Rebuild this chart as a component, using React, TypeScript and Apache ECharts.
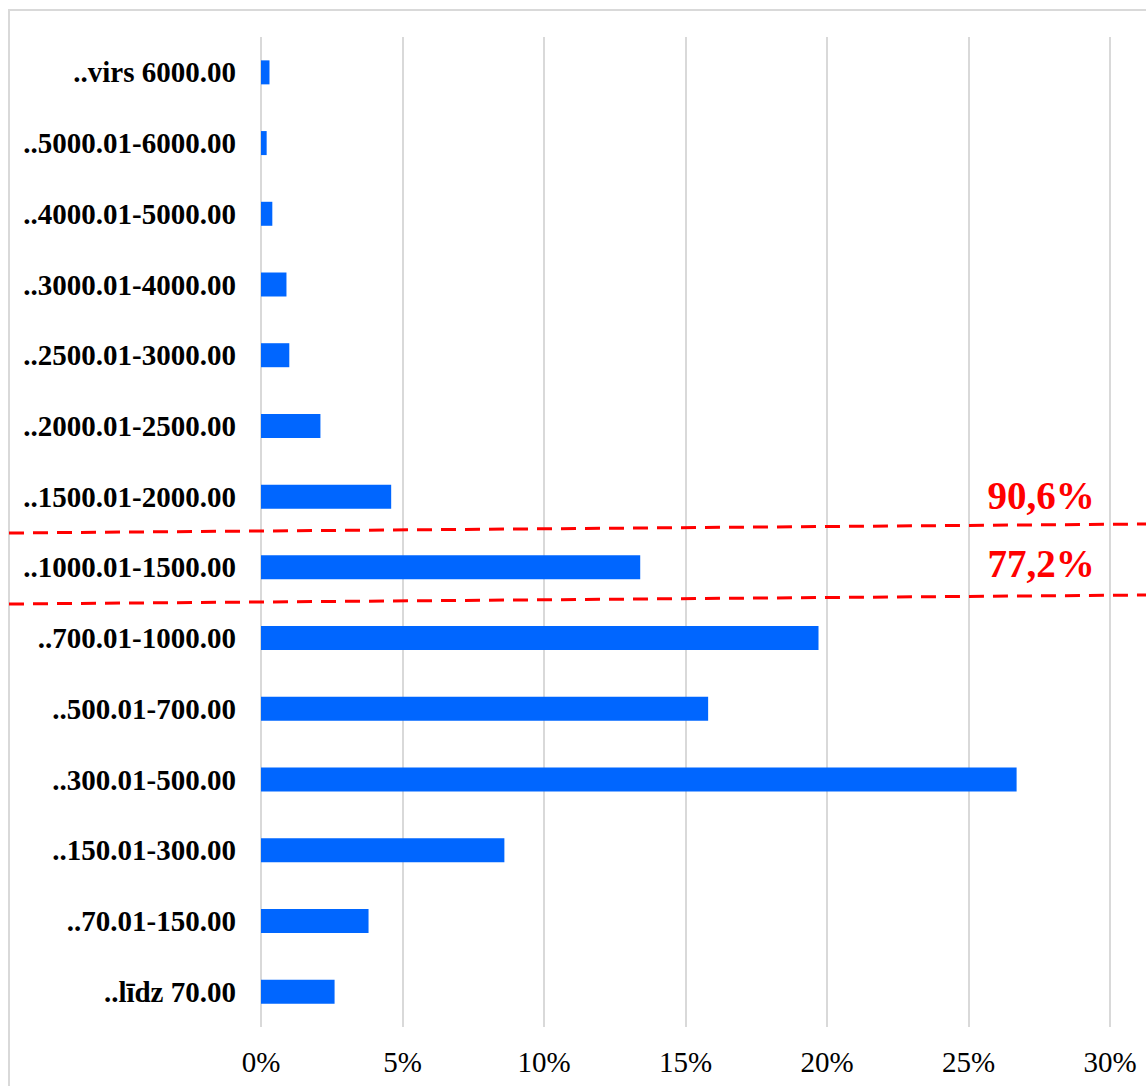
import React, { useEffect, useRef } from "react";
import * as echarts from "echarts";

const categories = [
  "..līdz 70.00",
  "..70.01-150.00",
  "..150.01-300.00",
  "..300.01-500.00",
  "..500.01-700.00",
  "..700.01-1000.00",
  "..1000.01-1500.00",
  "..1500.01-2000.00",
  "..2000.01-2500.00",
  "..2500.01-3000.00",
  "..3000.01-4000.00",
  "..4000.01-5000.00",
  "..5000.01-6000.00",
  "..virs 6000.00",
];
const shares = [2.6, 3.8, 8.6, 26.7, 15.8, 19.7, 13.4, 4.6, 2.1, 1.0, 0.9, 0.4, 0.2, 0.3];
const cumulativeLabels = ["90,6%", "77,2%"];

const SERIF = "'Liberation Serif', 'Times New Roman', serif";

export default function App() {
  const ref = useRef<HTMLDivElement>(null);
  useEffect(() => {
    if (!ref.current) return;
    const chart = echarts.init(ref.current, undefined, { renderer: "svg" });
    const dash = { stroke: "#ff0000", lineWidth: 3, lineDash: [15, 9] };
    chart.setOption({
      animation: false,
      backgroundColor: "#ffffff",
      grid: { left: 261, right: 36, top: 37, bottom: 59 },
      xAxis: {
        type: "value",
        min: 0,
        max: 30,
        interval: 5,
        axisLine: { show: false },
        axisTick: { show: false },
        splitLine: { show: true, lineStyle: { color: "#d9d9d9", width: 2 } },
        axisLabel: {
          formatter: "{value}%",
          fontFamily: SERIF,
          fontSize: 29,
          color: "#000000",
          margin: 20,
        },
      },
      yAxis: {
        type: "category",
        data: categories,
        axisLine: { show: false },
        axisTick: { show: false },
        axisLabel: {
          fontFamily: SERIF,
          fontSize: 29,
          fontWeight: "bold",
          color: "#000000",
          margin: 25,
        },
      },
      series: [
        {
          type: "bar",
          data: shares,
          barWidth: 24,
          itemStyle: { color: "#0066ff" },
        },
      ],
      graphic: [
        {
          type: "rect",
          shape: { x: 9, y: 10, width: 1200, height: 1200 },
          style: { fill: "none", stroke: "#d9d9d9", lineWidth: 2 },
          silent: true,
          z: -1,
        },
        {
          type: "line",
          shape: { x1: 9, y1: 533, x2: 1146, y2: 524 },
          style: dash,
          z: 10,
        },
        {
          type: "line",
          shape: { x1: 9, y1: 604, x2: 1146, y2: 595 },
          style: dash,
          z: 10,
        },
        {
          type: "text",
          x: 1041,
          y: 495,
          style: {
            text: cumulativeLabels[0],
            fill: "#ff0000",
            font: `bold 39px ${SERIF}`,
            textAlign: "center",
            textVerticalAlign: "middle",
          },
          z: 10,
        },
        {
          type: "text",
          x: 1041,
          y: 563,
          style: {
            text: cumulativeLabels[1],
            fill: "#ff0000",
            font: `bold 39px ${SERIF}`,
            textAlign: "center",
            textVerticalAlign: "middle",
          },
          z: 10,
        },
      ],
    });
    return () => chart.dispose();
  }, []);
  return (
    <div
      ref={ref}
      style={{ position: "fixed", left: 0, top: 0, width: 1146, height: 1086 }}
    />
  );
}
